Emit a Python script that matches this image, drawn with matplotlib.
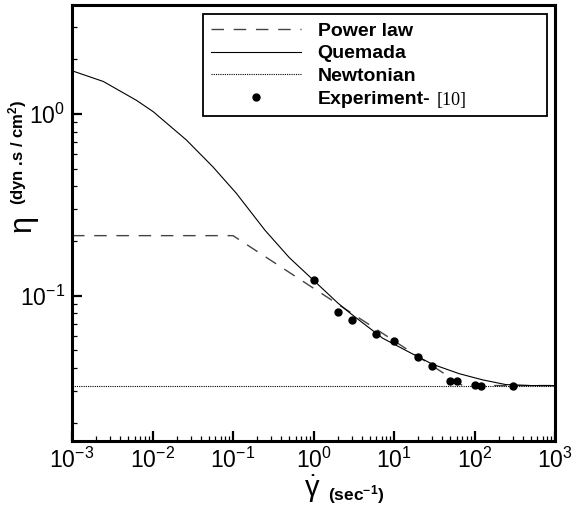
import matplotlib
matplotlib.use('Agg')
import matplotlib.pyplot as plt
from matplotlib.lines import Line2D
from matplotlib.ticker import LogLocator, NullFormatter

plt.rcParams['font.family'] = 'Liberation Sans'
plt.rcParams['mathtext.fontset'] = 'custom'
plt.rcParams['mathtext.rm'] = 'Liberation Sans'
plt.rcParams['mathtext.it'] = 'Liberation Sans:italic'
plt.rcParams['mathtext.bf'] = 'Liberation Sans:bold'
plt.rcParams['axes.unicode_minus'] = False

# Quemada curve
quemada_x = [1e-3, 2.45e-3, 6.3e-3, 1.02e-2, 2.63e-2, 5.6e-2, 0.11, 0.25, 0.5,
             1.0, 2.0, 2.82, 7.24, 18.6, 30.2, 64.6, 126, 245, 500, 1000]
quemada_y = [1.73, 1.51, 1.19, 1.03, 0.72, 0.513, 0.366, 0.229, 0.162,
             0.1216, 0.0912, 0.0804, 0.0583, 0.0468, 0.0419, 0.0372, 0.0344, 0.0324, 0.032, 0.032]

# Power law (flat, then power law, then Newtonian limit)
power_x = [1e-3, 0.1, 71, 1000]
power_y = [0.214, 0.214, 0.032, 0.032]

# Newtonian
newton_x = [1e-3, 1000]
newton_y = [0.032, 0.032]

# Experiment [10]
exp_x = [1, 2, 3, 6, 10, 20, 30, 50, 60, 100, 120, 300]
exp_y = [0.122, 0.0817, 0.0735, 0.0612, 0.0563, 0.0462, 0.0412, 0.034, 0.034, 0.0323, 0.0318, 0.032]

fig = plt.figure(figsize=(5.73, 5.11), dpi=100)
ax = fig.add_axes([72/573, 70/511, 483/573, 436/511])

l1, = ax.plot(power_x, power_y, color='#444444', lw=1.0, dashes=(9, 7))
l2, = ax.plot(quemada_x, quemada_y, color='black', lw=0.8)
l3, = ax.plot(newton_x, newton_y, color='black', lw=0.8, ls=(0, (1, 1)))
ax.plot(exp_x, exp_y, 'o', color='black', ms=5)

ax.set_xscale('log')
ax.set_yscale('log')
ax.set_xlim(1e-3, 1e3)
ax.set_ylim(10**-1.8, 10**0.6)

ax.xaxis.set_minor_locator(LogLocator(base=10, subs=range(2, 10), numticks=20))
ax.yaxis.set_minor_locator(LogLocator(base=10, subs=range(2, 10), numticks=20))
ax.xaxis.set_minor_formatter(NullFormatter())
ax.yaxis.set_minor_formatter(NullFormatter())
ax.tick_params(which='both', direction='in', top=False, right=False)
ax.tick_params(which='major', length=7, width=1.6, labelsize=16.5, pad=5)
ax.tick_params(axis='y', which='major', pad=5)
ax.tick_params(which='minor', length=3.5, width=0.9)
for s in ax.spines.values():
    s.set_linewidth(2.2)

# legend
exp_handle = Line2D([], [], marker='o', ls='none', color='black', ms=5)
leg = ax.legend([l1, l2, l3, exp_handle], ['Power law', 'Quemada', 'Newtonian', 'Experiment-'],
                prop=dict(family='Liberation Sans', weight='bold', size=14),
                loc='upper left', bbox_to_anchor=(0.271, 0.757, 0.712, 0.222), mode='expand',
                borderaxespad=0, fancybox=False, edgecolor='black', framealpha=1,
                handlelength=4.65, handletextpad=0.85, labelspacing=0.27, borderpad=0.4,
                numpoints=1)
leg.get_frame().set_linewidth(1.3)
fig.text(437/573, 1 - 100/511, '[10]', family='Liberation Serif', fontsize=13, va='center')

# axis labels
fig.text(22/573, 1 - 223/511, 'η', fontsize=22, rotation=90, ha='center', va='center')
fig.text(18/573, 1 - 152/511, r'(dyn .s / cm$^{\mathbf{2}}$)', fontsize=12, fontweight='bold',
         rotation=90, ha='center', va='center')
fig.text(312/573, 1 - 489/511, r'$\dot{\mathrm{\gamma}}$', fontsize=21, ha='center', va='center')
fig.text(356/573, 1 - 495/511, r'(sec$^{\mathbf{-1}}$)', fontsize=12.5, fontweight='bold',
         ha='center', va='center')

fig.savefig('out.png', dpi=100)
